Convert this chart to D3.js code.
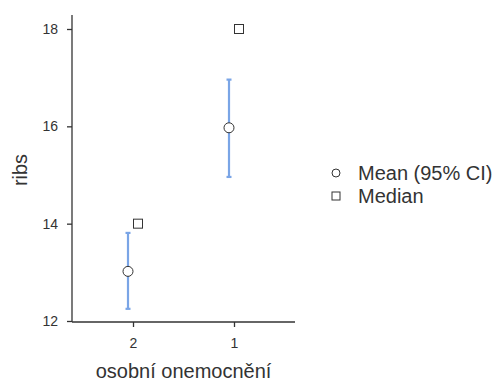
<!DOCTYPE html>
<html>
<head>
<meta charset="utf-8">
<script src="https://cdn.jsdelivr.net/npm/d3@7"></script>
<style>
  body { margin: 0; background: #fff; }
  text { font-family: "Liberation Sans", Arial, sans-serif; }
</style>
</head>
<body>
<div id="chart"></div>
<script>
const groups = ['2', '1'];
const means = [13.02, 15.97];
const ciLow = [12.25, 14.96];
const ciHigh = [13.81, 16.96];
const medians = [14, 18];
const yTicks = [12, 14, 16, 18];

const width = 494, height = 383;
const plot = {left: 72, right: 295, top: 15, bottom: 321};

const svg = d3.select('#chart').append('svg')
  .attr('width', width)
  .attr('height', height);

const x = d3.scalePoint()
  .domain(groups)
  .range([plot.left, plot.right])
  .padding(0.604);

const y = d3.scaleLinear()
  .domain([12, 18])
  .range([plot.bottom, 29]);

const dodge = 5;
const axisColor = '#333333';
const ciColor = '#7aa5e6';

// axes
const yAxis = svg.append('g')
  .attr('transform', 'translate(' + plot.left + ',0)')
  .call(d3.axisLeft(y).tickValues(yTicks).tickSize(5).tickPadding(9).tickFormat(d3.format('d')));
yAxis.select('.domain').attr('d', 'M0,' + plot.top + 'V' + (plot.bottom + 1));

const xAxis = svg.append('g')
  .attr('transform', 'translate(0,' + (plot.bottom + 1) + ')')
  .call(d3.axisBottom(x).tickSize(5).tickPadding(11));
xAxis.select('.domain').attr('d', 'M' + plot.left + ',0H' + plot.right);

svg.selectAll('.domain').attr('stroke', axisColor).attr('stroke-width', 1.3);
svg.selectAll('.tick line').attr('stroke', axisColor).attr('stroke-width', 1.3);
svg.selectAll('.tick text')
  .attr('fill', '#333')
  .style('font-size', '14px')
  .style('font-family', '"Liberation Sans", Arial, sans-serif');

// axis titles
svg.append('text')
  .attr('transform', 'translate(27,' + ((plot.top + plot.bottom) / 2 + 2) + ') rotate(-90)')
  .attr('text-anchor', 'middle')
  .attr('fill', '#333')
  .style('font-size', '20px')
  .text('ribs');

svg.append('text')
  .attr('x', (plot.left + plot.right) / 2)
  .attr('y', 378)
  .attr('text-anchor', 'middle')
  .attr('fill', '#333')
  .style('font-size', '20px')
  .text('osobní onemocnění');

// error bars
const cap = 2.5;
const bars = svg.append('g').selectAll('g')
  .data(groups)
  .enter()
  .append('g')
  .attr('stroke', ciColor)
  .attr('stroke-width', 2.2);

bars.append('line')
  .attr('x1', d => x(d) - dodge)
  .attr('x2', d => x(d) - dodge)
  .attr('y1', (d, i) => y(ciLow[i]))
  .attr('y2', (d, i) => y(ciHigh[i]));

bars.append('line')
  .attr('x1', d => x(d) - dodge - cap)
  .attr('x2', d => x(d) - dodge + cap)
  .attr('y1', (d, i) => y(ciLow[i]))
  .attr('y2', (d, i) => y(ciLow[i]));

bars.append('line')
  .attr('x1', d => x(d) - dodge - cap)
  .attr('x2', d => x(d) - dodge + cap)
  .attr('y1', (d, i) => y(ciHigh[i]))
  .attr('y2', (d, i) => y(ciHigh[i]));

// means
svg.append('g').selectAll('circle')
  .data(groups)
  .enter()
  .append('circle')
  .attr('cx', d => x(d) - dodge)
  .attr('cy', (d, i) => y(means[i]))
  .attr('r', 5)
  .attr('fill', '#fff')
  .attr('stroke', axisColor)
  .attr('stroke-width', 1);

// medians
const sq = 9;
svg.append('g').selectAll('rect')
  .data(groups)
  .enter()
  .append('rect')
  .attr('x', d => x(d) + dodge - sq / 2)
  .attr('y', (d, i) => y(medians[i]) - sq / 2)
  .attr('width', sq)
  .attr('height', sq)
  .attr('fill', '#fff')
  .attr('stroke', axisColor)
  .attr('stroke-width', 1);

// legend
const legend = svg.append('g').attr('transform', 'translate(336,173)');
legend.append('circle')
  .attr('cx', 0).attr('cy', 0).attr('r', 4)
  .attr('fill', '#fff').attr('stroke', axisColor);
legend.append('text')
  .attr('x', 22).attr('y', 7)
  .attr('fill', '#333')
  .style('font-size', '20px')
  .text('Mean (95% CI)');
legend.append('rect')
  .attr('x', -4).attr('y', 19).attr('width', 8).attr('height', 8)
  .attr('fill', '#fff').attr('stroke', axisColor);
legend.append('text')
  .attr('x', 22).attr('y', 30)
  .attr('fill', '#333')
  .style('font-size', '20px')
  .text('Median');
</script>
</body>
</html>
